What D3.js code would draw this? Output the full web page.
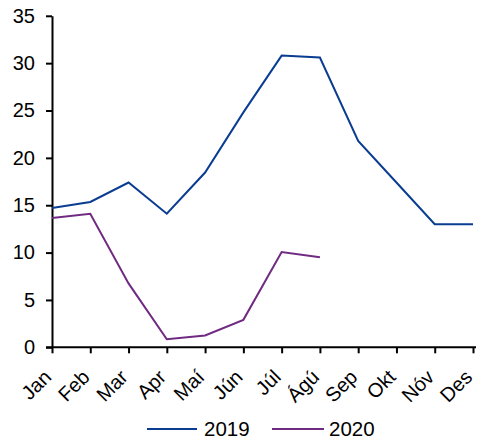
<!DOCTYPE html>
<html>
<head>
<meta charset="utf-8">
<script src="https://cdn.jsdelivr.net/npm/d3@7"></script>
<style>
  html, body { margin: 0; padding: 0; background: #fff; }
  svg { display: block; font-family: "Liberation Sans", Arial, sans-serif; }
</style>
</head>
<body>
<svg id="chart" width="477" height="439"></svg>
<script>
// Monthly values, Icelandic month abbreviations
const months = ["Jan", "Feb", "Mar", "Apr", "Maí", "Jún", "Júl", "Ágú", "Sep", "Okt", "Nóv", "Des"];
const values2019 = [14.7, 15.35, 17.4, 14.1, 18.45, 24.8, 30.8, 30.6, 21.8, 17.4, 13.0, 13.0];
const values2020 = [13.65, 14.1, 6.75, 0.85, 1.25, 2.9, 10.05, 9.5];
const yTicks = [0, 5, 10, 15, 20, 25, 30, 35];

const seriesList = [
  { name: "2019", values: values2019, color: "#0a3d91" },
  { name: "2020", values: values2020, color: "#702a82" }
];

const svg = d3.select("#chart");
const W = 477;
const plotLeft = 52, plotRight = 473, plotTop = 15.8, plotBottom = 347.3;
const fontSize = 20;

const x = d3.scalePoint().domain(months).range([plotLeft, plotRight]);
const y = d3.scaleLinear().domain([0, 35]).range([plotBottom, plotTop]);

// Y axis
const yAxis = svg.append("g")
  .attr("transform", `translate(${plotLeft},0)`)
  .call(d3.axisLeft(y).tickValues(yTicks).tickSize(6).tickPadding(11).tickSizeOuter(0));
yAxis.select(".domain").attr("stroke", "#000").attr("stroke-width", 2);
yAxis.selectAll(".tick line").attr("stroke", "#000").attr("stroke-width", 2);
yAxis.selectAll(".tick text")
  .attr("font-size", fontSize).attr("fill", "#000")
  .attr("font-family", "Liberation Sans, Arial, sans-serif");

// X axis with rotated month labels
const xAxis = svg.append("g")
  .attr("transform", `translate(0,${y(0)})`)
  .call(d3.axisBottom(x).tickSize(6).tickSizeOuter(0));
xAxis.select(".domain").attr("stroke", "#000").attr("stroke-width", 2)
  .attr("d", `M${plotLeft - 6},0H${W - 1}`);
xAxis.selectAll(".tick line").attr("stroke", "#000").attr("stroke-width", 2);
xAxis.selectAll(".tick text")
  .attr("font-size", fontSize).attr("fill", "#000")
  .attr("font-family", "Liberation Sans, Arial, sans-serif")
  .attr("text-anchor", "end")
  .attr("dy", null)
  .attr("y", 0)
  .attr("transform", "translate(0,31) rotate(-45)");

// Lines
const line = d3.line()
  .x((d, i) => x(months[i]))
  .y(d => y(d));

seriesList.forEach(s => {
  svg.append("path")
    .datum(s.values)
    .attr("fill", "none")
    .attr("stroke", s.color)
    .attr("stroke-width", 2)
    .attr("stroke-linejoin", "miter")
    .attr("d", line);
});

// Legend
const legendY = 429;
const legendItems = [
  { x0: 147, x1: 197, tx: 204 },
  { x0: 272, x1: 324, tx: 329 }
];
seriesList.forEach((s, i) => {
  const it = legendItems[i];
  svg.append("line")
    .attr("x1", it.x0).attr("x2", it.x1)
    .attr("y1", legendY).attr("y2", legendY)
    .attr("stroke", s.color).attr("stroke-width", 2);
  svg.append("text")
    .attr("x", it.tx).attr("y", 436)
    .attr("font-size", 20.5).attr("fill", "#000")
    .text(s.name);
});
</script>
</body>
</html>
